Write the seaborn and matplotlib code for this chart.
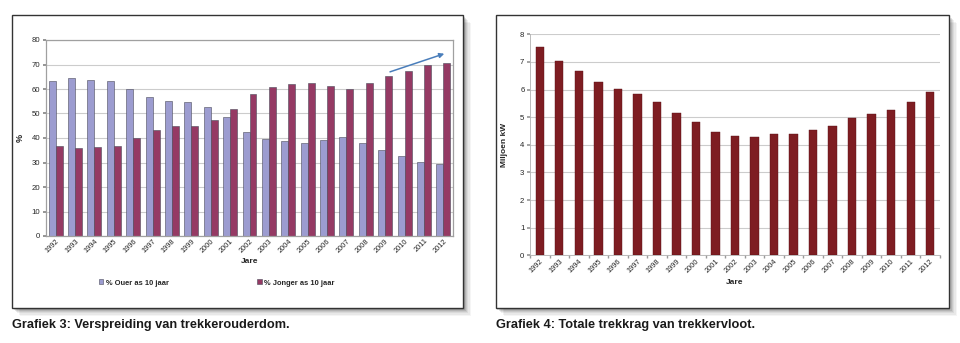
import matplotlib
matplotlib.use("Agg")
import matplotlib.pyplot as plt
from matplotlib.patches import Rectangle, Patch
import seaborn as sns
import pandas as pd
import numpy as np

years = [str(y) for y in range(1992, 2013)]
ouer = [63.4, 64.3, 63.8, 63.4, 59.8, 56.7, 55.3, 54.8, 52.5, 48.4,
        42.5, 39.5, 38.6, 37.9, 39.1, 40.5, 37.9, 35.0, 32.8, 30.1, 29.3]
jonger = [36.8, 35.8, 36.2, 36.8, 40.2, 43.3, 44.7, 45.1, 47.5, 51.8,
          57.8, 60.9, 61.9, 62.4, 61.2, 59.9, 62.4, 65.3, 67.4, 70.0, 70.8]
trekkrag = [7.55, 7.03, 6.66, 6.28, 6.03, 5.83, 5.54, 5.16, 4.81, 4.46,
            4.33, 4.28, 4.38, 4.39, 4.54, 4.67, 4.98, 5.13, 5.25, 5.54, 5.90]
series_names = ["% Ouer as 10 jaar", "% Jonger as 10 jaar"]
caption_left = "Grafiek 3: Verspreiding van trekkerouderdom."
caption_right = "Grafiek 4: Totale trekkrag van trekkervloot."
arrow_from = (17.25, 67.0)
arrow_to = (20.05, 74.4)

sns.set_theme(style="white")
plt.rcParams['font.family'] = ['Liberation Sans', 'DejaVu Sans']

W, H = 960, 343
fig = plt.figure(figsize=(W / 100, H / 100), dpi=100)
fig.patch.set_facecolor("white")


def fx(px):
    return px / W


def fy(py):
    return 1 - py / H


def panel(x0, y0, x1, y1):
    # soft shadow
    for i, a in enumerate([0.04, 0.05, 0.06, 0.08, 0.10, 0.13]):
        off = 8 - i * 1.3
        fig.patches.append(Rectangle((fx(x0 + off), fy(y1 + off)), fx(x1 - x0), (y1 - y0) / H,
                                     transform=fig.transFigure, facecolor="black",
                                     edgecolor="none", alpha=a, zorder=0))
    fig.patches.append(Rectangle((fx(x0), fy(y1)), fx(x1 - x0), (y1 - y0) / H,
                                 transform=fig.transFigure, facecolor="white",
                                 edgecolor="#333333", linewidth=1.0, zorder=1))


panel(12, 15, 463, 308)
panel(496, 15, 949, 308)

# ---- Left chart ----
df = pd.DataFrame({
    "Jaar": years * 2,
    "Waarde": ouer + jonger,
    "Reeks": [series_names[0]] * len(years) + [series_names[1]] * len(years),
})
axL = fig.add_axes([fx(46), fy(236), fx(453 - 46), (236 - 40) / H])
axL.set_zorder(2)
colL = ["#9c9cd0", "#953a64"]
sns.barplot(data=df, x="Jaar", y="Waarde", hue="Reeks", palette=colL, ax=axL,
            width=0.72, edgecolor="#4a4a5a", linewidth=0.4, legend=False, saturation=1)
axL.set_xlim(-0.5, len(years) - 0.5)
axL.set_ylim(0, 80)
axL.set_yticks(range(0, 81, 10))
axL.yaxis.grid(True, color="#cccccc", linewidth=0.8)
axL.set_axisbelow(True)
for s in axL.spines.values():
    s.set_color("#a0a0a0")
    s.set_linewidth(0.9)
axL.tick_params(axis="y", labelsize=5.6, pad=2, length=2, left=True, color="#888888")
axL.tick_params(axis="x", labelsize=5.3, pad=1, length=0)
plt.setp(axL.get_xticklabels(), rotation=45, ha="right", rotation_mode="anchor")
axL.set_xlabel("Jare", fontsize=6, fontweight="bold", labelpad=3)
axL.set_ylabel("%", fontsize=6.5, fontweight="bold", labelpad=5)
axL.annotate("", xy=arrow_to, xytext=arrow_from,
             arrowprops=dict(arrowstyle="-|>", color="#4a7ebb", lw=1.1,
                             mutation_scale=7, shrinkA=0, shrinkB=0), annotation_clip=False)
handles = [Patch(facecolor=c, edgecolor="#4a4a5a", linewidth=0.4) for c in colL]
fig.legend(handles, series_names, loc="center left", bbox_to_anchor=(fx(92), fy(283)),
           ncol=2, frameon=False, handlelength=0.6, handleheight=0.6,
           handletextpad=0.3, columnspacing=11.8, prop={"weight": "bold", "size": 5.4})

# ---- Right chart ----
dfR = pd.DataFrame({"Jaar": years, "Waarde": trekkrag})
axR = fig.add_axes([fx(530), fy(255.3), fx(940 - 530), (255.3 - 34.3) / H])
axR.set_zorder(2)
sns.barplot(data=dfR, x="Jaar", y="Waarde", color="#7e1d22", ax=axR, width=0.43,
            saturation=1, edgecolor="#5a1015", linewidth=0.3)
axR.set_xlim(-0.5, len(years) - 0.5)
axR.set_ylim(0, 8)
axR.set_yticks(range(0, 9))
axR.yaxis.grid(True, color="#cccccc", linewidth=0.8)
axR.set_axisbelow(True)
for k in ["top", "right"]:
    axR.spines[k].set_visible(False)
for k in ["left", "bottom"]:
    axR.spines[k].set_color("#b0b0b0")
    axR.spines[k].set_linewidth(0.6)
axR.set_xticks(np.arange(len(years) + 1) - 0.5, minor=True)
axR.tick_params(axis="x", which="minor", length=2, bottom=True, color="#999999")
axR.tick_params(axis="y", labelsize=5.6, pad=2, length=2, left=True, color="#999999")
axR.tick_params(axis="x", which="major", labelsize=5.3, pad=2, length=0)
plt.setp(axR.get_xticklabels(), rotation=45, ha="right", rotation_mode="anchor")
axR.set_xlabel("Jare", fontsize=6, fontweight="bold", labelpad=3)
axR.set_ylabel("Miljoen kW", fontsize=6, fontweight="bold", labelpad=9)

# captions
fig.text(fx(12), fy(325), caption_left, fontsize=9.2, fontweight="bold",
         va="center", ha="left", color="#1a1a1a")
fig.text(fx(496), fy(325), caption_right, fontsize=9.2, fontweight="bold",
         va="center", ha="left", color="#1a1a1a")

fig.savefig("out.png", dpi=100)
